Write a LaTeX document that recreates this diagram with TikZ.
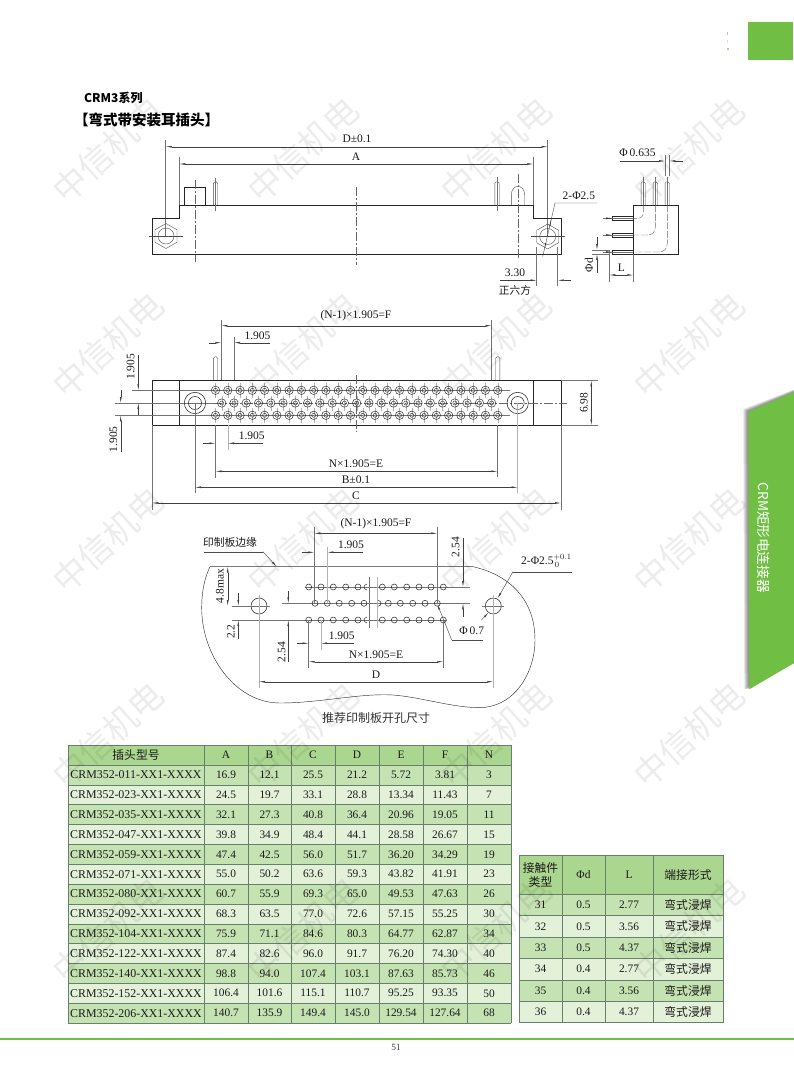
\documentclass[tikz,border=0pt]{standalone}
\usepackage{fontspec}
\setmainfont{Liberation Serif}
\newfontfamily\cjk{Noto Sans CJK SC}
\usetikzlibrary{arrows.meta}
\definecolor{brand}{HTML}{70BF44}
\definecolor{hdrc}{HTML}{ABD68F}
\definecolor{rowa}{HTML}{C5E3B2}
\definecolor{rowb}{HTML}{E3F1D9}
\definecolor{gridc}{HTML}{66806A}
\definecolor{ink}{HTML}{1A1A1A}
\tikzset{
 lab/.style={inner sep=0pt,text=ink,font=\fontsize{11.5}{13}\selectfont},
 cjklab/.style={inner sep=0pt,text=ink,font=\cjk\fontsize{10.7}{12}\selectfont},
 cell/.style={inner sep=0pt,text=ink,font=\fontsize{11.4}{13}\selectfont},
 cjkcell/.style={inner sep=0pt,text=ink,align=center,font=\cjk\fontsize{11.8}{13.5}\selectfont},
 outl/.style={line width=0.75pt,draw=black!85},
 thinl/.style={line width=0.4pt,draw=black!70},
 extl/.style={line width=0.45pt,draw=black!55},
 grayl/.style={line width=0.7pt,draw=black!30},
 centl/.style={line width=0.5pt,draw=black!60,dash pattern=on 9pt off 2pt on 2pt off 2pt},
 dimtwo/.style={line width=0.4pt,draw=black!75,{Latex[length=6pt,width=1.8pt]}-{Latex[length=6pt,width=1.8pt]}},
 dimone/.style={line width=0.4pt,draw=black!75,-{Latex[length=6pt,width=1.8pt]}},
 wmark/.style={inner sep=0pt,rotate=42,opacity=0.075,text=black,font=\cjk\fontsize{34}{34}\selectfont},
}
\newcommand{\hexnut}[2]{%
 \draw[thinl] (#1,#2-12.5) -- (#1+11,#2-6.2) -- (#1+11,#2+6.2) -- (#1,#2+12.5) -- (#1-11,#2+6.2) -- (#1-11,#2-6.2) -- cycle;
 \draw[thinl] (#1,#2) circle[radius=8];
 \draw[thinl] (#1-17,#2) -- (#1+17,#2);
}
\newcommand{\vpin}[3]{% x, top, bottom
 \draw[thinl,rounded corners=1.6pt] (#1-2.2,#3) -- (#1-2.2,#2) -- (#1+2.2,#2) -- (#1+2.2,#3);
}
\newcommand{\hole}[2]{%
 \draw[line width=0.3pt,draw=black!30] (#1,#2-7.5) -- (#1,#2+7.5);
 \draw[line width=0.5pt,draw=black!80] (#1,#2) circle[radius=4.2];
 \draw[line width=0.45pt,draw=black!80] (#1,#2) circle[radius=2];
}
\newcommand{\tinyhole}[2]{\draw[line width=0.5pt,draw=black!85] (#1,#2) circle[radius=3];}
\begin{document}
\begin{tikzpicture}[x=1pt,y=-1pt]
\useasboundingbox (0,0) rectangle (794,1077);
\fill[white] (0,0) rectangle (794,1077);
% top corner
\fill[brand] (748,22) rectangle (793,60);
\fill[black!25] (727,32) rectangle (728,34.5);
\fill[black!12] (727,40) rectangle (728,42.5);
\fill[brand!60] (727,47.5) rectangle (728.7,49.5);
% side tab
\foreach \o in {1,2,3,4,5}{
 \fill[black,opacity=0.1] (748.3-\o,411.7-0.5*\o) -- (794,392-0.5*\o) -- (794,663) -- (749.3-\o,689.3) -- cycle;
}
\fill[brand] (748.3,411.7) -- (794,392) -- (794,663) -- (749.3,689.3) -- cycle;
\node[rotate=-90,inner sep=0pt,text=white,font=\cjk\fontsize{13.6}{15}\selectfont] (tabtext) at (764,537.7) {CRM矩形电连接器};
% titles
\node[inner sep=0pt,anchor=west,text=black,font=\cjk\bfseries\fontsize{12}{14}\selectfont] (title1) at (84,98) {CRM3系列};
\node[inner sep=0pt,anchor=west,text=black,font=\cjk\bfseries\fontsize{14.5}{16}\selectfont] (title2) at (74,119.5) {【弯式带安装耳插头】};

%% ===== front view =====
\draw[extl] (165.7,140) -- (165.7,236);
\draw[extl] (179.3,157) -- (179.3,205);
\draw[extl] (547.7,140) -- (547.7,236);
\draw[extl] (533.3,157) -- (533.3,205);
\draw[dimtwo] (165.7,146.7) -- (547.7,146.7);
\draw[dimtwo] (179.3,164) -- (533.3,164);
\node[lab] (dpm) at (357,139) {D±0.1};
\node[lab] (lba) at (356,156.5) {A};
\draw[outl] (179.3,205.3) -- (533.3,205.3) -- (533.3,218.5) -- (561.7,218.5) -- (561.7,254.3) -- (152,254.3) -- (152,218.5) -- (179.3,218.5) -- cycle;
\hexnut{166}{236}
\hexnut{547.7}{236.5}
\draw[outl] (184.3,205.3) -- (184.3,187.3) -- (205.7,187.3) -- (205.7,205.3);
\draw[centl] (195.3,180) -- (195.3,262);
\vpin{215.5}{181.7}{205.3}
\draw[extl] (215.5,178) -- (215.5,211);
\draw[centl] (356.3,187) -- (356.3,265);
\vpin{497}{181.7}{205.3}
\draw[extl] (497,177) -- (497,211);
\draw[thinl] (511.3,205.3) -- (511.3,195) .. controls (511.3,183.5) and (524.7,183.5) .. (524.7,195) -- (524.7,205.3);
\draw[centl] (518,174) -- (518,258);
% 2-phi 2.5
\node[lab,anchor=west] (twophi) at (562.5,196) {2-Φ2.5};
\draw[thinl] (597,203) -- (555,203) -- (542.7,256.7);
\fill[black!85] (551.3,219) -- (550.3,226) -- (549.3,226) -- cycle;
\fill[black!85] (544.5,248.5) -- (545.3,243) -- (546.3,243) -- cycle;
% 3.30
\node[lab] (w330) at (515,272.7) {3.30};
\node[cjklab] (hexn) at (515,290) {正六方};
\draw[extl] (536.7,247) -- (536.7,286);
\draw[extl] (557.7,247) -- (557.7,286);
\draw[dimone] (570.7,280.3) -- (557.7,280.3);
\draw[dimone] (500,280.3) -- (536.7,280.3);

%% ===== side view =====
\node[lab] (phi635) at (637.5,152.7) {Φ\,0.635};
\draw[extl] (665,155) -- (665,176);
\draw[extl] (669.3,155) -- (669.3,176);
\draw[dimone] (620,161) -- (665,161);
\draw[dimone] (682.7,161) -- (669.3,161);
\draw[outl] (633,205.3) -- (678,205.3) -- (678,254.3) -- (633,254.3) -- cycle;
\foreach \px in {643.3,655.3,667.3}{
 \vpin{\px}{181.7}{205.3}
 \draw[extl] (\px,176.7) -- (\px,205.3);
}
\foreach \py in {218.3,235,252}{
 \draw[outl] (633,\py-2) -- (612,\py-2) -- (612,\py+2) -- (633,\py+2);
 \draw[extl] (603,\py) -- (633,\py);
 \fill[black!80] (612,\py) -- (606,\py-0.8) -- (606,\py+0.8) -- cycle;
}
\draw[line width=0.4pt,draw=black!60,dash pattern=on 7pt off 1.5pt] (643.3,205.3) -- (643.3,212) .. controls (643.3,216.5) and (641,218.3) .. (637,218.3) -- (633,218.3);
\draw[line width=0.4pt,draw=black!60,dash pattern=on 7pt off 1.5pt] (655.3,205.3) -- (655.3,227) .. controls (655.3,232.5) and (652,235) .. (647,235) -- (633,235);
\draw[line width=0.4pt,draw=black!60,dash pattern=on 7pt off 1.5pt] (667.3,205.3) -- (667.3,243) .. controls (667.3,249) and (664,252) .. (659,252) -- (633,252);
\node[lab,rotate=90] (phid) at (589,265) {Φd};
\draw[extl] (592,250) -- (610,250);
\draw[extl] (592,254) -- (610,254);
\draw[dimone] (597,237) -- (597,250);
\draw[dimone] (597,273) -- (597,254);
\node[lab] (ltxt) at (621.5,268) {L};
\draw[extl] (609.3,250) -- (609.3,282);
\draw[extl] (633.3,254.3) -- (633.3,282);
\draw[dimtwo] (609.3,275) -- (633.3,275);

%% ===== bottom view =====
\draw[outl] (152.3,380.3) rectangle (561,425.3);
\draw[outl] (179.3,380.3) -- (179.3,425.3);
\draw[outl] (533.3,380.3) -- (533.3,425.3);
\vpin{215.5}{356.7}{380.3}
\vpin{497.7}{356.7}{380.3}
\draw[extl] (132,390.3) -- (510,390.3);
\draw[extl] (115,403) -- (214,403);
\draw[extl] (115,415.3) -- (510,415.3);
\draw[centl] (214,403) -- (567,403);
\draw[centl] (356,375) -- (356,432);
\foreach \i in {0,...,23}{
 \pgfmathsetmacro\hx{215.5+\i*12.27}
 \hole{\hx}{390.3}
 \hole{\hx}{415.3}
}
\foreach \i in {0,...,22}{
 \pgfmathsetmacro\hx{221.7+\i*12.27}
 \hole{\hx}{403}
}
\foreach \mx in {195,517.7}{
 \draw[line width=0.55pt,draw=black!85] (\mx,403) circle[radius=10.7];
 \draw[line width=0.55pt,draw=black!85] (\mx,403) circle[radius=6.5];
}
% dims, upper
\node[lab] (nf1) at (356,316) {(N-1)×1.905=F};
\draw[extl] (221.3,320) -- (221.3,380);
\draw[extl] (491.7,320) -- (491.7,380);
\draw[dimtwo] (221.3,325.7) -- (491.7,325.7);
\node[lab] (p1) at (257.5,335.7) {1.905};
\draw[extl] (234,337) -- (234,380);
\draw[dimone] (209,342.7) -- (221.3,342.7);
\draw[dimone] (270,342.7) -- (234,342.7);
% left vertical dims
\node[lab,rotate=90] (p2) at (130.7,366.7) {1.905};
\draw[dimone] (138.3,355) -- (138.3,390.3);
\draw[dimone] (138.3,415.3) -- (138.3,403);
\node[lab,rotate=90] (p3) at (113.3,439.3) {1.905};
\draw[dimone] (120.7,390) -- (120.7,403);
\draw[dimone] (120.7,451.7) -- (120.7,415.3);
% bottom dims
\node[lab] (p4) at (251.7,436) {1.905};
\draw[extl] (215.5,425.3) -- (215.5,450);
\draw[grayl] (228,425.3) -- (228,450);
\draw[dimone] (203,443.3) -- (215.5,443.3);
\draw[dimone] (263,443.3) -- (228,443.3);
\node[lab] (ne1) at (356,464) {N×1.905=E};
\draw[extl] (215.5,450) -- (215.5,478);
\draw[extl] (497.5,425.3) -- (497.5,477);
\draw[dimtwo] (215.5,471.3) -- (497.5,471.3);
\node[lab] (bpm) at (356,480) {B±0.1};
\draw[extl] (195,403) -- (195,493);
\draw[grayl] (517.7,403) -- (517.7,493);
\draw[dimtwo] (195,487.3) -- (517.7,487.3);
\node[lab] (ctxt) at (356,495.5) {C};
\draw[extl] (152.3,425.3) -- (152.3,510);
\draw[extl] (561,425.3) -- (561,510);
\draw[dimtwo] (152.3,503) -- (561,503);
\node[lab,rotate=90] (p698) at (584,402.7) {6.98};
\draw[extl] (561,380.3) -- (598,380.3);
\draw[extl] (561,425.3) -- (598,425.3);
\draw[dimtwo] (591.3,380.3) -- (591.3,425.3);

%% ===== PCB layout =====
\node[cjklab,font=\cjk\fontsize{10.8}{12}\selectfont] (edge) at (230,542.7) {印制板边缘};
\draw[thinl] (204,551.7) -- (263,551.7);
\draw[dimone] (263,551.7) -- (276.7,566.7);
\draw[line width=0.45pt,draw=black!80] (210,566.7) -- (473,566.7) .. controls (510,575) and (535,600) .. (535,640) .. controls (535,672) and (515,708) .. (478,707.7) .. controls (450,707) and (420,697) .. (393,695) .. controls (360,693) and (320,703) .. (280,703) .. controls (235,703) and (201.7,655) .. (201.7,608) .. controls (201.7,590) and (205,577) .. (210,566.7);
\draw[extl] (305,587) -- (470,587);
\draw[extl] (282.3,603.3) -- (470,603.3);
\draw[extl] (232.3,620) -- (446.7,620);
\foreach \hx in {308.7,321,333.3,345.7,358,382.3,394.3,406.7,419,431,443.3}{
 \tinyhole{\hx}{587}
 \tinyhole{\hx}{620}
}
\foreach \hx in {315,327.3,339.3,351.7,364,388.3,400.3,412.7,425,437.3}{
 \tinyhole{\hx}{603.3}
}
\draw[line width=0.5pt,draw=black!85] (367,584) .. controls (363,585) and (363,589) .. (367,590);
\draw[line width=0.5pt,draw=black!85] (367,617) .. controls (363,618) and (363,622) .. (367,623);
\draw[line width=0.5pt,draw=black!85] (378.3,600.3) .. controls (382,601.3) and (382,605.3) .. (378.3,606.3);
\draw[extl] (369.3,576.7) -- (369.3,628);
\draw[grayl] (377.7,576.7) -- (377.7,628);
\foreach \mx in {259,493.3}{
 \draw[line width=0.55pt,draw=black!85] (\mx,606) circle[radius=8];
 \draw[extl] (\mx-11,606) -- (\mx+11,606);
 \draw[grayl] (\mx,595) -- (\mx,688);
}
\draw[extl] (231.7,606) -- (248,606);
% vertical dims
\node[lab,rotate=90] (h48) at (220,586) {4.8max};
\draw[dimtwo] (227.7,566.7) -- (227.7,606);
\node[lab,rotate=90] (h22) at (231,631.7) {2.2};
\draw[dimone] (238.3,593) -- (238.3,606);
\draw[dimone] (238.3,639) -- (238.3,620);
\node[lab,rotate=90] (h254a) at (281.7,652) {2.54};
\draw[dimone] (288.3,591) -- (288.3,603.3);
\draw[dimone] (288.3,661.7) -- (288.3,620);
\node[lab] (p5) at (341.7,635.7) {1.905};
\draw[extl] (308.7,620) -- (308.7,668);
\draw[grayl] (321,620) -- (321,650);
\draw[dimone] (296.7,643.3) -- (308.7,643.3);
\draw[dimone] (354,643.3) -- (321,643.3);
\node[lab] (ne2) at (376,655) {N×1.905=E};
\draw[extl] (443.3,620) -- (443.3,668.3);
\draw[dimtwo] (308.7,661.7) -- (443.3,661.7);
\node[lab] (dtxt) at (376,675) {D};
\draw[dimtwo] (259,681.7) -- (493.3,681.7);
\node[lab] (nf2) at (376,524) {(N-1)×1.905=F};
\draw[extl] (314.3,526.7) -- (314.3,603.3);
\draw[extl] (437.3,526.7) -- (437.3,603.3);
\draw[dimtwo] (314.3,533.3) -- (437.3,533.3);
\node[lab] (p6) at (351,545) {1.905};
\draw[grayl] (327.3,546.7) -- (327.3,603.3);
\draw[dimone] (301.7,552.3) -- (314.3,552.3);
\draw[dimone] (363.3,552.3) -- (327.3,552.3);
\node[lab,rotate=90] (h254b) at (455.7,547.3) {2.54};
\draw[dimone] (463,538.3) -- (463,587);
\draw[dimone] (463,616.7) -- (463,603.3);
\node[lab] (phi07) at (471.7,631) {Φ\,0.7};
\draw[thinl] (483.3,640) -- (451.7,640);
\draw[dimone] (451.7,640) -- (437.3,604);
\node[lab,anchor=west] (twophib) at (521,561) {2-Φ2.5$^{+0.1}_{\,0}$};
\draw[thinl] (572,571.7) -- (513,571.7);
\draw[dimone] (513,571.7) -- (497.5,598.5);
\draw[dimone] (481.5,620) -- (488.5,612.5);
\node[inner sep=0pt,text=black!80,font=\cjk\fontsize{12}{14}\selectfont] (rec) at (376,718) {推荐印制板开孔尺寸};

%% ===== main table =====
\fill[hdrc] (68,745) rectangle (511,765);
\foreach \cm/\ca/\cb/\cc/\cd/\ce/\cf/\cn [count=\r from 1] in {
 011/16.9/12.1/25.5/21.2/5.72/3.81/3,
 023/24.5/19.7/33.1/28.8/13.34/11.43/7,
 035/32.1/27.3/40.8/36.4/20.96/19.05/11,
 047/39.8/34.9/48.4/44.1/28.58/26.67/15,
 059/47.4/42.5/56.0/51.7/36.20/34.29/19,
 071/55.0/50.2/63.6/59.3/43.82/41.91/23,
 080/60.7/55.9/69.3/65.0/49.53/47.63/26,
 092/68.3/63.5/77.0/72.6/57.15/55.25/30,
 104/75.9/71.1/84.6/80.3/64.77/62.87/34,
 122/87.4/82.6/96.0/91.7/76.20/74.30/40,
 140/98.8/94.0/107.4/103.1/87.63/85.73/46,
 152/106.4/101.6/115.1/110.7/95.25/93.35/50,
 206/140.7/135.9/149.4/145.0/129.54/127.64/68}{
 \pgfmathsetmacro\ytop{765+(\r-1)*19.85}
 \pgfmathsetmacro\ybot{765+\r*19.85}
 \pgfmathsetmacro\ymid{765+(\r-0.5)*19.85}
 \ifodd\r\relax\def\rc{rowa}\else\def\rc{rowb}\fi
 \fill[\rc] (68,\ytop) rectangle (511,\ybot);
 \node[cell,font=\fontsize{11.9}{13}\selectfont] (m\r) at (136,\ymid) {CRM352-\cm-XX1-XXXX};
 \node[cell] (a\r) at (226,\ymid) {\ca};
 \node[cell] (b\r) at (269.5,\ymid) {\cb};
 \node[cell] (c\r) at (313,\ymid) {\cc};
 \node[cell] (d\r) at (357,\ymid) {\cd};
 \node[cell] (e\r) at (401,\ymid) {\ce};
 \node[cell] (f\r) at (445,\ymid) {\cf};
 \node[cell] (n\r) at (489,\ymid) {\cn};
}
\foreach \r in {0,...,13}{
 \pgfmathsetmacro\yl{765+\r*19.85}
 \draw[line width=0.6pt,draw=gridc] (68,\yl) -- (511,\yl);
}
\draw[line width=0.7pt,draw=gridc] (68,745) -- (511,745);
\foreach \cx in {68,204,248,291.5,335,379,423,467,511}{
 \draw[line width=0.6pt,draw=gridc] (\cx,745) -- (\cx,1023);
}
\node[cjkcell] (h0) at (136,755) {插头型号};
\foreach \t/\x [count=\k] in {A/226,B/269.5,C/313,D/357,E/401,F/445,N/489}{
 \node[cell] (h\k) at (\x,755) {\t};
}

%% ===== contact table =====
\fill[hdrc] (519,855) rectangle (723,894.3);
\foreach \ct/\cd/\cl [count=\r from 1] in {31/0.5/2.77,32/0.5/3.56,33/0.5/4.37,34/0.4/2.77,35/0.4/3.56,36/0.4/4.37}{
 \pgfmathsetmacro\ytop{894.3+(\r-1)*21.4}
 \pgfmathsetmacro\ybot{894.3+\r*21.4}
 \pgfmathsetmacro\ymid{894.3+(\r-0.5)*21.4}
 \ifodd\r\relax\def\rc{rowa}\else\def\rc{rowb}\fi
 \fill[\rc] (519,\ytop) rectangle (723,\ybot);
 \node[cell] (ct\r) at (540.5,\ymid) {\ct};
 \node[cell] (cd\r) at (583.5,\ymid) {\cd};
 \node[cell] (cl\r) at (629,\ymid) {\cl};
 \node[cjkcell] (cf\r) at (688,\ymid) {弯式浸焊};
}
\foreach \r in {0,...,6}{
 \pgfmathsetmacro\yl{894.3+\r*21.4}
 \draw[line width=0.6pt,draw=gridc] (519,\yl) -- (723,\yl);
}
\draw[line width=0.7pt,draw=gridc] (519,855) -- (723,855);
\foreach \cx in {519,562,605.7,653,723}{
 \draw[line width=0.6pt,draw=gridc] (\cx,855) -- (\cx,1022.7);
}
\node[cjkcell] (kh1) at (540.5,875) {接触件\\类型};
\node[cell] (kh2) at (583.5,875) {Φd};
\node[cell] (kh3) at (629,875) {L};
\node[cjkcell] (kh4) at (688,875) {端接形式};

%% ===== footer =====
\fill[brand] (0,1038.3) rectangle (794,1040);
\node[inner sep=0pt,text=black!75,font=\fontsize{9.5}{11}\selectfont] (pageno) at (396,1047.5) {51};

%% ===== watermark =====
\foreach \wy [count=\rr] in {150,345,540,735,930}{
 \foreach \wx [count=\cc] in {108,303,496,689}{
  \node[wmark] (wm\rr\cc) at (\wx,\wy) {中信机电};
 }
}
\end{tikzpicture}
\end{document}
